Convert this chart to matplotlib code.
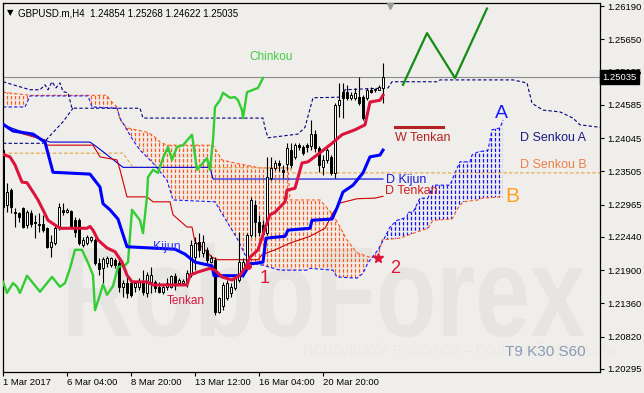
import matplotlib
matplotlib.use("Agg")
import matplotlib.pyplot as plt
import matplotlib.transforms as mtransforms
import numpy as np
from matplotlib.patches import Polygon, PathPatch
from matplotlib.textpath import TextPath
from matplotlib.font_manager import FontProperties

BG = "#efeeea"

# GBPUSD H4 candles, bar 0 = 1 Mar 2017
opens = [1.2385, 1.2296, 1.2320, 1.2285, 1.2283, 1.2291, 1.2264, 1.2283, 1.2269, 1.2265,
         1.2265, 1.2259, 1.2228, 1.2234, 1.2259, 1.2288, 1.2285, 1.2286, 1.2272, 1.2272,
         1.2231, 1.2234, 1.2239, 1.2239, 1.2202, 1.2194, 1.2202, 1.2199, 1.2207, 1.2202,
         1.2163, 1.2169, 1.2169, 1.2163, 1.2163, 1.2171, 1.2153, 1.2171, 1.2171, 1.2163,
         1.2155, 1.2163, 1.2163, 1.2180, 1.2169, 1.2169, 1.2171, 1.2186, 1.2212, 1.2236,
         1.2218, 1.2223, 1.2204, 1.2207, 1.2122, 1.2131, 1.2145, 1.2153, 1.2161, 1.2174,
         1.2191, 1.2199, 1.2247, 1.2296, 1.2269, 1.2264, 1.2250, 1.2340, 1.2356, 1.2364,
         1.2353, 1.2363, 1.2385, 1.2374, 1.2394, 1.2390, 1.2394, 1.2392, 1.2411, 1.2389,
         1.2358, 1.2369, 1.2374, 1.2348, 1.2459, 1.2480, 1.2480, 1.2470, 1.2470, 1.2471,
         1.2471, 1.2470, 1.2483, 1.2483, 1.2483, 1.24854]
highs = [1.2394, 1.2332, 1.2324, 1.2291, 1.2285, 1.2293, 1.2288, 1.2288, 1.2280, 1.2283,
         1.2280, 1.2260, 1.2247, 1.2264, 1.2299, 1.2299, 1.2291, 1.2288, 1.2277, 1.2275,
         1.2244, 1.2247, 1.2246, 1.2243, 1.2210, 1.2212, 1.2213, 1.2212, 1.2210, 1.2207,
         1.2174, 1.2179, 1.2171, 1.2171, 1.2177, 1.2191, 1.2187, 1.2195, 1.2174, 1.2171,
         1.2166, 1.2177, 1.2182, 1.2186, 1.2177, 1.2176, 1.2191, 1.2239, 1.2244, 1.2250,
         1.2247, 1.2228, 1.2215, 1.2212, 1.2147, 1.2171, 1.2174, 1.2169, 1.2179, 1.2252,
         1.2210, 1.2250, 1.2309, 1.2304, 1.2280, 1.2272, 1.2374, 1.2374, 1.2369, 1.2369,
         1.2361, 1.2397, 1.2397, 1.2397, 1.2397, 1.2394, 1.2397, 1.2434, 1.2418, 1.2392,
         1.2377, 1.2389, 1.2377, 1.2462, 1.2494, 1.2494, 1.2491, 1.2480, 1.2486, 1.2504,
         1.2475, 1.2486, 1.2488, 1.2486, 1.2491, 1.25268]
lows = [1.2288, 1.2285, 1.2283, 1.2260, 1.2269, 1.2259, 1.2259, 1.2260, 1.2243, 1.2252,
        1.2252, 1.2226, 1.2212, 1.2231, 1.2256, 1.2280, 1.2283, 1.2259, 1.2244, 1.2231,
        1.2228, 1.2231, 1.2236, 1.2199, 1.2182, 1.2169, 1.2195, 1.2195, 1.2194, 1.2155,
        1.2147, 1.2145, 1.2147, 1.2155, 1.2158, 1.2150, 1.2147, 1.2153, 1.2155, 1.2153,
        1.2151, 1.2158, 1.2161, 1.2158, 1.2166, 1.2166, 1.2163, 1.2179, 1.2191, 1.2212,
        1.2212, 1.2202, 1.2202, 1.2117, 1.2121, 1.2126, 1.2142, 1.2147, 1.2158, 1.2171,
        1.2179, 1.2191, 1.2244, 1.2244, 1.2246, 1.2244, 1.2247, 1.2337, 1.2353, 1.2351,
        1.2340, 1.2353, 1.2356, 1.2371, 1.2385, 1.2377, 1.2382, 1.2385, 1.2382, 1.2350,
        1.2345, 1.2364, 1.2345, 1.2340, 1.2439, 1.2437, 1.2467, 1.2467, 1.2467, 1.2459,
        1.2434, 1.2467, 1.2478, 1.2480, 1.2483, 1.24622]
closes = [1.2293, 1.2317, 1.2293, 1.2283, 1.2277, 1.2260, 1.2285, 1.2265, 1.2267, 1.2264,
          1.2256, 1.2228, 1.2236, 1.2259, 1.2293, 1.2285, 1.2288, 1.2260, 1.2252, 1.2234,
          1.2239, 1.2244, 1.2244, 1.2202, 1.2192, 1.2208, 1.2210, 1.2210, 1.2199, 1.2163,
          1.2169, 1.2153, 1.2150, 1.2169, 1.2171, 1.2155, 1.2182, 1.2182, 1.2161, 1.2155,
          1.2163, 1.2169, 1.2180, 1.2169, 1.2174, 1.2172, 1.2186, 1.2231, 1.2234, 1.2223,
          1.2236, 1.2207, 1.2210, 1.2122, 1.2145, 1.2166, 1.2169, 1.2163, 1.2177, 1.2204,
          1.2204, 1.2247, 1.2304, 1.2269, 1.2252, 1.2249, 1.2342, 1.2356, 1.2364, 1.2361,
          1.2350, 1.2389, 1.2361, 1.2394, 1.2390, 1.2381, 1.2390, 1.2411, 1.2389, 1.2361,
          1.2369, 1.2385, 1.2348, 1.2459, 1.2467, 1.2470, 1.2470, 1.2475, 1.2478, 1.2462,
          1.2437, 1.2483, 1.2480, 1.2484, 1.2488, 1.25035]

# H4 Ichimoku (T9 K30 S60), vertices (bar, price)
tenkan_x = [0, 1.75, 3, 4.75, 6, 7.5, 8.75, 10, 11.25, 14.25, 21, 21.75, 22.5, 23.75, 26, 28,
            29.75, 31, 32.25, 36, 37.5, 46, 46.75, 48.75, 51.75, 53, 54.75, 57.25, 59.25, 60.5,
            61.75, 63.75, 65.5, 66.75, 68, 70.5, 71, 73, 74.75, 76.25, 78.5, 82.25, 84.75, 88,
            90.5, 91.75, 94.25, 95]
tenkan_y = [1.2378, 1.2374, 1.2361, 1.2333, 1.2332, 1.2317, 1.2304, 1.2288, 1.2271, 1.2258,
            1.2258, 1.2261, 1.2255, 1.2239, 1.2226, 1.2220, 1.2203, 1.2182, 1.2171, 1.2171,
            1.2166, 1.2166, 1.2182, 1.2187, 1.2193, 1.2190, 1.2179, 1.2174, 1.2182, 1.2193,
            1.2211, 1.2223, 1.2258, 1.2280, 1.2284, 1.2301, 1.2320, 1.2323, 1.2364, 1.2366,
            1.2377, 1.2396, 1.2410, 1.2418, 1.2426, 1.2463, 1.2466, 1.2474]
kijun_x = [0, 2.5, 7.5, 10.5, 12.5, 21.75, 24.25, 25, 26.75, 28.75, 31, 43, 45.5, 48, 52.25,
           52.75, 60, 61.75, 65, 65.75, 70.5, 71.25, 76.75, 77.25, 82.25, 83.5, 85, 87.5, 90,
           91.75, 94.25, 95]
kijun_y = [1.2427, 1.2416, 1.2411, 1.2398, 1.2349, 1.2346, 1.2325, 1.2298, 1.2288, 1.2273,
           1.2228, 1.2224, 1.2216, 1.2203, 1.2197, 1.2181, 1.2181, 1.2200, 1.2203, 1.2242,
           1.2245, 1.2255, 1.2258, 1.2271, 1.2273, 1.2291, 1.2317, 1.2328, 1.2348, 1.2374,
           1.2377, 1.2385]
chinkou_x = [0, 1, 2.5, 3.5, 4.25, 6, 7.5, 9.25, 12.25, 14.25, 15.5, 16.75, 18, 19.75, 21.25,
             22.5, 23, 24.25, 25, 26, 27.5, 28.75, 30.5, 31.25, 32.25, 34.25, 35, 36, 36.25,
             37.5, 38.75, 40, 41.25, 42.25, 43.5, 45, 47.25, 48.5, 51, 51.75, 52.5, 53, 54.25,
             55, 56.75, 58, 58.75, 59.75, 60, 61, 61.75, 63.75, 65]
chinkou_y = [1.2171, 1.2153, 1.2169, 1.2163, 1.2153, 1.2181, 1.2169, 1.2155, 1.2179, 1.2163,
             1.2169, 1.2193, 1.2223, 1.2223, 1.2202, 1.2182, 1.2125, 1.2150, 1.2167, 1.2150,
             1.2164, 1.2195, 1.2198, 1.2203, 1.2288, 1.2271, 1.2250, 1.2309, 1.2341, 1.2353,
             1.2348, 1.2372, 1.2390, 1.2369, 1.2390, 1.2393, 1.2410, 1.2353, 1.2372, 1.2353,
             1.2401, 1.2455, 1.2466, 1.2478, 1.2470, 1.2471, 1.2466, 1.2450, 1.2437, 1.2479,
             1.2481, 1.2486, 1.2502]
senkou_a_x = [0, 5.5, 6.75, 21.25, 22.25, 28.5, 29.25, 32.5, 34.25, 37.5, 41, 42.5, 53, 58.75,
              60.5, 61.75, 65, 69.25, 76, 76.75, 82.5, 83.5, 88.5, 90, 91.25, 93.75, 95.5,
              96.75, 98.5, 101, 101.25, 102.5, 104.25, 106.25, 107.5, 111.75, 113, 114.25,
              116.75, 117.25, 118.75, 121.25, 122.25, 124.25, 125]
senkou_a_y = [1.2455, 1.2455, 1.2473, 1.2473, 1.2455, 1.2453, 1.2437, 1.2401, 1.2385, 1.2364,
              1.2336, 1.2304, 1.2301, 1.2239, 1.2215, 1.2202, 1.2198, 1.2190, 1.2190, 1.2193,
              1.2190, 1.2179, 1.2177, 1.2185, 1.2202, 1.2223, 1.2244, 1.2260, 1.2271, 1.2276,
              1.2284, 1.2284, 1.2307, 1.2307, 1.2328, 1.2328, 1.2348, 1.2366, 1.2366, 1.2377,
              1.2382, 1.2385, 1.2418, 1.2421, 1.2434]
senkou_b_x = [0, 6.75, 26, 26.75, 28.5, 29.25, 31, 36, 37.5, 39.25, 41, 52.5, 54.75, 58, 64.25,
              71.25, 71.75, 79.25, 82.5, 84.25, 86, 88.5, 91.75, 93.75, 94.75, 99.25, 103.5,
              106.25, 107.5, 112.25, 113.75, 115, 118.75, 119.75, 125]
senkou_b_y = [1.2479, 1.2474, 1.2474, 1.2466, 1.2455, 1.2434, 1.2421, 1.2414, 1.2409, 1.2398,
              1.2393, 1.2393, 1.2369, 1.2364, 1.2356, 1.2356, 1.2304, 1.2304, 1.2280, 1.2260,
              1.2239, 1.2218, 1.2211, 1.2210, 1.2239, 1.2242, 1.2252, 1.2258, 1.2271, 1.2273,
              1.2291, 1.2301, 1.2304, 1.2307, 1.2309]
cloud_cross_bar = 93.5

# daily / weekly lines
d_tenkan_x = [0, 2.5, 10.5, 11, 22.5, 24.25, 28.5, 29.25, 31, 36, 37.5, 41.75, 42.5, 46, 47.25,
              48, 49.75, 52.25, 53.75, 63.75, 64.75, 68, 71.75, 76.75, 80.5, 82.5, 84.25, 88.5,
              93, 95]
d_tenkan_y = [1.2429, 1.2416, 1.2401, 1.2393, 1.2393, 1.2374, 1.2369, 1.2353, 1.2309, 1.2309,
              1.2301, 1.2301, 1.2280, 1.2260, 1.2260, 1.2236, 1.2228, 1.2211, 1.2207, 1.2207,
              1.2215, 1.2223, 1.2234, 1.2245, 1.2258, 1.2283, 1.2299, 1.2306, 1.2307, 1.2310]
d_kijun_x = [0, 10.5, 11.75, 21.75, 23.5, 30, 51.75, 52.5, 95]
d_kijun_y = [1.2426, 1.2401, 1.2398, 1.2398, 1.2390, 1.2357, 1.2357, 1.2338, 1.2338]
d_senkou_a_x = [0, 6.75, 9.25, 10.5, 11.25, 12.25, 13.25, 14.25, 15, 16.25, 17.25, 34.25, 35,
                65, 65.5, 66.25, 73.75, 75.5, 77.5, 84.75, 85.5, 96.25, 97.25, 108.5, 109.25,
                127.5, 131, 132.25, 135, 139.25, 142.5, 144.25, 149.25]
d_senkou_a_y = [1.2496, 1.2483, 1.2483, 1.2491, 1.2483, 1.2496, 1.2486, 1.2494, 1.2480, 1.2478,
                1.2453, 1.2453, 1.2437, 1.2437, 1.2421, 1.2405, 1.2411, 1.2422, 1.2470, 1.2471,
                1.2483, 1.2486, 1.2496, 1.2496, 1.2499, 1.2499, 1.2494, 1.2461, 1.2450, 1.2447,
                1.2437, 1.2426, 1.2422]
d_span_left_x = [0, 10, 15, 17.5]
d_span_left_y = [1.2396, 1.2396, 1.2431, 1.2453]
d_senkou_b_x = [0, 30, 32.5, 71.75, 72.25, 149.25]
d_senkou_b_y = [1.2380, 1.2380, 1.2357, 1.2356, 1.2348, 1.2348]
w_tenkan_x = [98, 110]
w_tenkan_y = [1.2422, 1.2422]

# forecast zigzag and signal points
forecast_x = [100, 106, 113, 121]
forecast_y = [1.2491, 1.2575, 1.2502, 1.2615]
signal_x = [61.25, 93.75]
signal_y = [1.2197, 1.2210]

tick_bars = [0, 16, 32, 48, 64, 80]
tick_labels = ["1 Mar 2017", "6 Mar 04:00", "8 Mar 20:00", "13 Mar 12:00",
               "16 Mar 04:00", "20 Mar 20:00"]
price_ticks = [1.26190, 1.25650, 1.25125, 1.24585, 1.24045, 1.23505, 1.22965,
               1.22440, 1.21900, 1.21360, 1.20820, 1.20295]


def main():
    plt.rcParams["font.family"] = ["Liberation Sans", "DejaVu Sans"]
    fig = plt.figure(figsize=(6.44, 3.93), dpi=100, facecolor=BG)
    ax = fig.add_axes([3 / 644, 1 - 372 / 393, 597 / 644, 369 / 393])
    ax.set_facecolor(BG)
    ax.set_xlim(0, 149.25)
    ax.set_ylim(1.20246, 1.26239)
    y0, y1 = ax.get_ylim()

    # watermark (condensed, drawn in pixel units)
    tp = TextPath((0, 0), "RoboForex", size=128,
                  prop=FontProperties(family="Liberation Sans", weight="bold"))
    wm_w = tp.get_extents().width
    wm_tr = mtransforms.Affine2D().scale(516 / wm_w, 1.0).translate(62, 393 - 336)
    ax.add_artist(PathPatch(tp, transform=wm_tr, facecolor="#e6e5e1",
                            edgecolor="none", zorder=0.2))
    ax.text(0.502, 0.045, "ИСПОЛЬЗУЙ РОБОТОВ – ПОЛУЧАЙ ПРИБЫЛЬ", transform=ax.transAxes,
            fontsize=10, color="#eae9e5", va="baseline", ha="left", zorder=0.2)

    # H4 cloud hatch
    cloud = Polygon(list(zip(senkou_a_x, senkou_a_y)) + list(zip(senkou_b_x, senkou_b_y))[::-1],
                    closed=True, transform=ax.transData)
    hatch_bars = np.arange(0, int(max(senkou_a_x)) + 1)
    for sel, col in ((hatch_bars <= cloud_cross_bar, "#ff5a1f"),
                     (hatch_bars > cloud_cross_bar, "#1010ff")):
        vl = ax.vlines(hatch_bars[sel], y0, y1, colors=col, lw=0.9,
                       linestyles="--", zorder=1)
        vl.set_dashes((0, (2.8, 1.4)))
        vl.set_clip_path(cloud)
    ax.plot(senkou_b_x, senkou_b_y, color="#ff5a1f", lw=0.8, ls=(0, (3, 2)), zorder=2)
    ax.plot(senkou_a_x, senkou_a_y, color="#1515ff", lw=0.8, ls=(0, (3, 2)), zorder=2)

    # daily lines
    ax.plot(d_senkou_a_x, d_senkou_a_y, color="#000080", lw=0.8, ls=(0, (3, 2)), zorder=2)
    ax.plot(d_span_left_x, d_span_left_y, color="#000080", lw=0.8, ls=(0, (3, 2)), zorder=2)
    ax.plot(d_senkou_b_x, d_senkou_b_y, color="#e6a23c", lw=0.8, ls=(0, (3, 2)), zorder=2)
    ax.plot(d_kijun_x, d_kijun_y, color="#0000dd", lw=0.8, zorder=2)
    ax.plot(d_tenkan_x, d_tenkan_y, color="#d00000", lw=0.8, zorder=2)
    ax.plot(w_tenkan_x, w_tenkan_y, color="#b22222", lw=2.2, zorder=2)

    # price line
    ax.axhline(closes[-1], color="#8c8c8c", lw=0.8, zorder=1.5)

    # candles
    o = np.array(opens)
    c = np.array(closes)
    h = np.array(highs)
    l = np.array(lows)
    x = np.arange(len(c))
    up = c >= o
    ax.vlines(x, l, h, color="black", lw=0.8, zorder=4)
    ax.bar(x[up], (c - o)[up], bottom=o[up], width=0.62, color="white",
           edgecolor="black", lw=0.7, zorder=5)
    ax.bar(x[~up], (o - c)[~up], bottom=c[~up], width=0.62, color="black",
           edgecolor="black", lw=0.7, zorder=5)

    # H4 lines
    ax.plot(chinkou_x, chinkou_y, color="#32cd32", lw=1.7, zorder=5.5)
    ax.plot(kijun_x, kijun_y, color="#0000ff", lw=2.2, zorder=6)
    ax.plot(tenkan_x, tenkan_y, color="#dc143c", lw=2.2, zorder=6.5)
    ax.plot(forecast_x, forecast_y, color="#148c14", lw=1.6, zorder=6)
    ax.plot(signal_x[:1], signal_y[:1], "o", color="#dc143c", ms=4, zorder=7)
    ax.plot(signal_x[1:], signal_y[1:], "*", color="#dc143c", ms=7, zorder=7)

    # labels
    lab = dict(va="center", ha="left", zorder=8)
    ax.text(61.5, 1.2536, "Chinkou", color="#44cc44", fontsize=8.5, **lab)
    ax.text(98, 1.2405, "W Tenkan", color="#b22222", fontsize=9, **lab)
    ax.text(129.25, 1.2405, "D Senkou A", color="#1a1a80", fontsize=9, **lab)
    ax.text(129.25, 1.2361, "D Senkou B", color="#ee7f4a", fontsize=9, **lab)
    ax.text(95.75, 1.2336, "D Kijun", color="#1a1ae0", fontsize=9, **lab)
    ax.text(95.5, 1.2318, "D Tenkan", color="#cc2020", fontsize=9, **lab)
    ax.text(123, 1.2445, "A", color="#1a1aff", fontsize=14, **lab)
    ax.text(125.5, 1.2309, "B", color="#ffa020", fontsize=15, **lab)
    ax.text(37.5, 1.2228, "Kijun", color="#3333ff", fontsize=8.8, **lab)
    ax.text(41, 1.2140, "Tenkan", color="#dc143c", fontsize=8.5, **lab)
    ax.text(64.25, 1.2177, "1", color="#dc143c", fontsize=13, **lab)
    ax.text(96.75, 1.2193, "2", color="#dc143c", fontsize=13, **lab)
    ax.text(125.5, 1.2057, "T9 K30 S60", color="#8a9bb5", fontsize=11, **lab)

    # axes styling
    for sp in ax.spines.values():
        sp.set_color("black")
        sp.set_linewidth(0.9)
    ax.yaxis.tick_right()
    ax.set_yticks(price_ticks)
    ax.set_yticklabels([f"{p:.5f}" for p in price_ticks])
    ax.set_xticks(tick_bars)
    ax.set_xticklabels(tick_labels, ha="left")
    ax.tick_params(axis="both", direction="out", length=3, width=0.8,
                   labelsize=6.8, colors="black")
    ax.tick_params(axis="y", pad=2)
    ax.tick_params(axis="x", pad=1.5)

    # current price box
    trans = mtransforms.blended_transform_factory(ax.transAxes, ax.transData)
    ax.text(1.004, closes[-1], f"{closes[-1]:.5f}", transform=trans, color="white",
            fontsize=6.8, va="center", ha="left", clip_on=False, zorder=10,
            bbox=dict(facecolor="black", edgecolor="black", pad=1.6))
    ax.plot([0.648], [0.993], marker="v", color="#9a9a9a", ms=5,
            transform=ax.transAxes, clip_on=False, zorder=9)

    # header
    fig.text(7 / 644, 1 - 13 / 393, "▼", fontsize=6, family="DejaVu Sans",
             va="center", ha="left")
    fig.text(18 / 644, 1 - 13 / 393, "GBPUSD.m,H4  1.24854 1.25268 1.24622 1.25035",
             fontsize=7, va="center", ha="left")

    fig.savefig("out.png", dpi=100, facecolor=BG)


if __name__ == "__main__":
    main()
